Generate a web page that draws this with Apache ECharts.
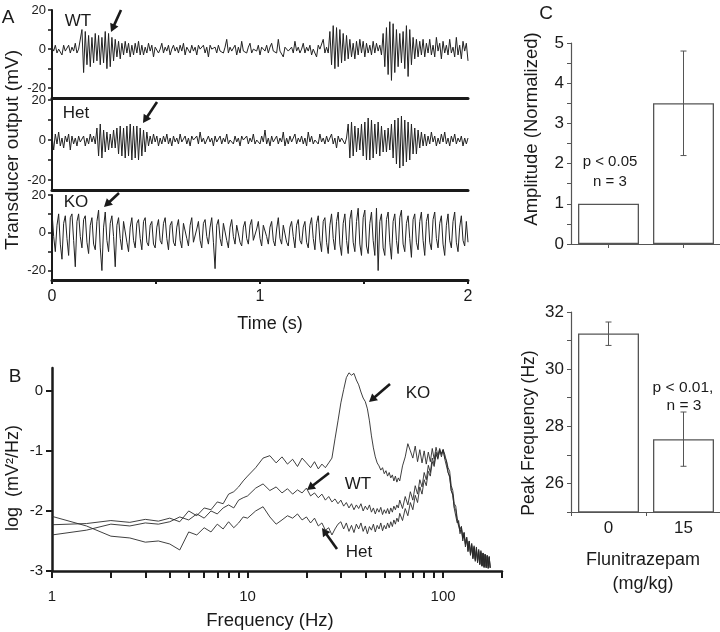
<!DOCTYPE html>
<html><head><meta charset="utf-8">
<script src="https://cdn.jsdelivr.net/npm/echarts@6/dist/echarts.min.js"></script>
<style>html,body{margin:0;padding:0;background:#fff}#c{width:720px;height:632px}</style>
</head><body><div id="c"></div><script>
// ---------- Panel A: transducer traces (mV), one sample every DT seconds ----------
const DT = 0.008;
const WT_MV = [
 1,-1,2,-2,0,1,-3,2,-1,0,2,-2,1,-1,3,-2,0,1,10,-12,9,-8,7,-9,6,
 -7,8,-6,7,-8,6,-7,9,-10,8,-9,6,-6,5,-4,4,-5,3,-3,4,-2,3,-4,2,-3,
 3,-2,4,-3,2,-3,1,-2,3,-1,2,-4,1,2,-2,0,3,-2,1,-1,2,-3,0,2,-1,
 1,-2,2,-1,3,-3,1,0,-2,2,-1,1,-3,2,0,-1,2,-2,1,-4,2,0,-1,1,-2,
 2,-1,0,-2,1,5,-2,1,-1,0,2,-3,1,-2,4,-1,0,-2,1,3,-2,0,1,-1,2,
 -3,1,0,-1,2,-2,1,3,-1,0,-2,5,-1,0,-4,1,2,-1,0,1,-2,4,-1,1,-2,
 0,3,-2,1,-1,2,-3,0,1,-4,2,0,-1,5,-2,1,-2,9,-8,12,-10,11,-9,10,-7,
 8,-6,7,-5,5,-4,3,-5,4,-3,5,-2,4,-4,3,-2,2,-3,4,-2,3,-1,2,-3,8,
 -9,11,-13,14,-16,13,-12,10,-9,8,-7,9,-10,12,-14,10,-8,6,-5,5,-4,4,-3,5,-4,
 3,-2,5,-3,2,-4,6,-1,3,-5,4,-2,2,-3,5,-2,1,-4,6,-3,2,-5,4,-1,3,-6
];
const HET_MV = [
 2,-5,3,-2,4,-3,1,-4,2,-1,3,-5,2,-2,1,-3,2,-1,0,2,-3,1,-2,3,-1,
 2,-2,6,-8,8,-9,5,-6,4,-5,3,-4,5,-4,6,-7,7,-8,6,-9,7,-8,8,-10,7,
 -9,7,-10,6,-8,5,-6,4,-3,2,-2,3,-1,2,-3,1,-2,2,-1,3,-2,1,-3,2,-1,
 1,-2,3,-1,0,2,-2,1,-3,2,0,-1,2,-2,4,-1,1,-2,0,2,-1,1,-3,2,-1,
 0,2,-2,1,-1,3,-2,0,1,-2,2,-1,1,-3,2,0,-1,2,-2,1,-1,3,-2,0,1,
 -2,2,-1,5,-2,1,-3,2,-1,0,2,-2,1,-1,4,-3,1,-2,2,-1,0,3,-2,1,-1,
 2,-2,1,-3,4,-1,2,-2,0,1,-2,3,-1,1,-2,2,-1,0,3,-2,1,-4,2,-1,1,
 0,-2,1,8,-9,9,-8,7,-6,6,-5,8,-8,9,-10,11,-10,10,-9,8,-7,9,-8,7,-6,
 5,-6,6,-5,8,-9,10,-12,11,-14,12,-13,10,-11,9,-10,8,-7,6,-7,5,-4,4,-3,3,
 -3,2,-2,4,-1,2,-3,1,-2,3,-1,4,-2,1,-3,2,-1,3,-2,1,-1,2,-3,1,-2,1
];
const KO_MV = [
 11,-2,-10,4,10,-6,-14,5,9,-3,-12,8,10,-4,-18,6,10,-2,-8,7,9,-5,-11,4,8,
 -6,-9,6,12,-8,-20,3,11,-4,-10,5,9,-2,-18,4,8,-3,-9,6,7,-5,-10,3,8,-4,
 -8,5,7,-3,-9,6,8,-5,-7,4,6,-6,-8,3,7,-4,-6,5,8,-3,-9,4,6,-5,-7,
 3,7,-4,-8,5,6,-3,-7,4,8,-5,-6,2,6,-4,-8,5,7,-2,-6,3,8,-5,-19,4,
 7,-3,-7,5,6,-4,-8,3,7,-2,-6,4,5,-5,-7,3,6,-3,-6,4,7,-4,-5,2,6,
 -3,-7,4,5,-2,-6,3,6,-4,-7,2,8,-3,-6,4,5,-5,-7,3,6,-2,-8,4,7,-4,
 -6,3,6,-5,-8,4,8,-3,-9,5,9,-4,-10,6,8,-5,-11,4,10,-3,-9,6,11,-6,-12,
 5,10,-4,-11,7,12,-5,-10,6,13,-6,-12,8,12,-7,-11,5,11,-4,-12,13,-20,6,10,-8,
 -12,7,11,-5,-14,6,10,-4,-11,8,12,-6,-10,5,9,-3,-13,7,10,-5,-9,6,11,-4,-12,
 6,10,-5,-9,7,11,-3,-8,5,9,-6,-12,4,10,-4,-8,6,11,-5,-10,3,9,-4,-7,6,-5
];
const TRACE_LABELS = ['WT', 'Het', 'KO'];

// ---------- Panel B: power spectra, log(mV^2/Hz) vs frequency (Hz) ----------
const FREQ = [
 1,1.5,2,2.5,3,3.5,4,4.5,5,5.5,6,6.5,7,7.5,8,8.5,9,9.5,
 10,11,12,13,14,15,16,17,18,19,20,21,22,23,24,25,26,27,28,29,
 30,31,32,33,34,35,36,37,38,39,40,41,42,43,44,45,46,47,48,49,
 50,51,52,53,54,55,56,57,58,59,
 60,62,64,66,68,70,72,74,76,78,80,82,84,86,88,90,92,94,96,98,
 100,102,104,106,108,110,112,114,116,118,120,122,124,126,128,130,132,134,136,138,
 140,142,144,146,148,150,152,154,156,158,160,162,164,166,168,170,172,174
];
const KO_LOG = [
 -2.23,-2.21,-2.16,-2.19,-2.14,-2.17,-2.12,-2.18,-2.0,-2.08,-1.95,-1.98,-1.85,-1.88,-1.72,-1.68,-1.6,-1.5,
 -1.42,-1.28,-1.12,-1.08,-1.2,-1.1,-1.22,-1.14,-1.26,-1.12,-1.2,-1.28,-1.18,-1.3,-1.22,-1.28,-1.2,-1.12,-0.8,-0.5,
 -0.2,0.02,0.22,0.3,0.26,0.29,0.18,0.1,-0.02,-0.12,-0.18,-0.3,-0.5,-0.75,-0.95,-1.1,-1.2,-1.25,-1.32,-1.28,
 -1.38,-1.33,-1.42,-1.36,-1.45,-1.4,-1.5,-1.42,-1.52,-1.45,
 -1.5,-1.25,-1.1,-0.88,-1.0,-1.12,-0.92,-1.18,-0.98,-1.2,-1.0,-1.22,-1.02,-1.18,-0.96,-1.14,-0.94,-1.08,-0.96,-1.06,
 -0.98,-1.12,-1.16,-1.36,-1.42,-1.66,-1.72,-1.96,-1.98,-2.2,-2.16,-2.38,-2.26,-2.5,-2.36,-2.6,-2.44,-2.68,-2.5,-2.74,
 -2.56,-2.8,-2.6,-2.84,-2.62,-2.86,-2.66,-2.9,-2.68,-2.92,-2.7,-2.94,-2.72,-2.95,-2.74,-2.96,-2.76,-2.95
];
const WT_LOG = [
 -2.4,-2.32,-2.22,-2.25,-2.2,-2.22,-2.18,-2.1,-2.15,-2.05,-2.12,-2.0,-2.05,-1.95,-1.9,-1.95,-1.82,-1.78,
 -1.75,-1.62,-1.55,-1.66,-1.6,-1.7,-1.63,-1.72,-1.65,-1.7,-1.62,-1.75,-1.7,-1.78,-1.72,-1.82,-1.76,-1.85,-1.8,-1.88,
 -1.82,-1.92,-1.86,-1.95,-1.88,-1.98,-1.9,-1.96,-1.88,-2.0,-1.92,-1.98,-1.9,-2.02,-1.95,-2.05,-1.96,-2.02,-1.94,-2.06,
 -1.98,-2.04,-1.96,-2.05,-1.95,-2.02,-1.92,-1.98,-1.9,-1.95,
 -1.82,-1.96,-1.76,-1.9,-1.68,-1.82,-1.58,-1.72,-1.48,-1.6,-1.36,-1.48,-1.24,-1.36,-1.12,-1.22,-1.02,-1.14,-0.98,-1.1,
 -0.98,-1.14,-1.16,-1.36,-1.44,-1.66,-1.74,-1.94,-1.98,-2.16,-2.16,-2.34,-2.3,-2.46,-2.4,-2.56,-2.48,-2.66,-2.52,-2.72,
 -2.58,-2.78,-2.62,-2.82,-2.64,-2.86,-2.68,-2.88,-2.7,-2.92,-2.72,-2.94,-2.74,-2.92,-2.76,-2.95,-2.78,-2.94
];
const HET_LOG = [
 -2.09,-2.25,-2.42,-2.45,-2.52,-2.5,-2.55,-2.65,-2.35,-2.4,-2.28,-2.35,-2.22,-2.3,-2.18,-2.28,-2.2,-2.1,
 -2.12,-2.0,-1.93,-2.1,-2.22,-2.15,-2.08,-2.12,-2.05,-2.15,-2.1,-2.2,-2.12,-2.25,-2.2,-2.32,-2.28,-2.4,-2.3,-2.22,
 -2.18,-2.3,-2.2,-2.34,-2.24,-2.36,-2.22,-2.3,-2.2,-2.34,-2.25,-2.38,-2.26,-2.32,-2.22,-2.35,-2.24,-2.3,-2.2,-2.33,
 -2.24,-2.3,-2.2,-2.28,-2.18,-2.26,-2.15,-2.22,-2.12,-2.18,
 -2.04,-2.16,-1.96,-2.08,-1.86,-1.98,-1.74,-1.86,-1.6,-1.72,-1.48,-1.58,-1.34,-1.42,-1.18,-1.26,-1.06,-1.12,-1.0,-1.04,
 -0.98,-1.06,-1.08,-1.28,-1.34,-1.58,-1.66,-1.88,-1.92,-2.12,-2.12,-2.3,-2.26,-2.44,-2.36,-2.54,-2.44,-2.62,-2.5,-2.7,
 -2.54,-2.76,-2.58,-2.8,-2.6,-2.84,-2.64,-2.88,-2.66,-2.9,-2.7,-2.92,-2.72,-2.94,-2.74,-2.92,-2.76,-2.95
];
const FREQ_TICKS = [1,2,3,4,5,6,7,8,9,10,20,30,40,50,60,70,80,90,100,200];
const FREQ_LABELS = [1,10,100];

// ---------- Panel C: Flunitrazepam effect ----------
const DOSES = ['0', '15'];
const AMP = [1, 3.5];
const AMP_LO = [1, 2.2];
const AMP_HI = [1, 4.8];
const PEAK = [31.25, 27.55];
const PEAK_LO = [30.83, 26.6];
const PEAK_HI = [31.65, 28.5];

// ---------- build ----------
const FONT = '"Liberation Sans", Arial, Helvetica, sans-serif';
const INK = '#1a1a1a';
const GRAY = '#555';

function traceData(arr) { return arr.map((v, i) => [Math.round(i * DT * 1000) / 1000, v]); }
function specData(arr) { return FREQ.map((f, i) => [f, arr[i]]); }
function errData(lo, hi) { return lo.map((l, i) => [i, l, hi[i]]); }

function errRender(params, api) {
  const x = api.value(0), lo = api.value(1), hi = api.value(2);
  if (lo === hi) return { type: 'group', children: [] };
  const p1 = api.coord([x, lo]), p2 = api.coord([x, hi]);
  const hw = 3, st = { stroke: GRAY, lineWidth: 1 };
  return { type: 'group', children: [
    { type: 'line', shape: { x1: p1[0], y1: p1[1], x2: p2[0], y2: p2[1] }, style: st },
    { type: 'line', shape: { x1: p1[0] - hw, y1: p1[1], x2: p1[0] + hw, y2: p1[1] }, style: st },
    { type: 'line', shape: { x1: p2[0] - hw, y1: p2[1], x2: p2[0] + hw, y2: p2[1] }, style: st }
  ]};
}

const gridBase = { containLabel: false, outerBoundsMode: 'none' };
const grids = [
  Object.assign({ left: 52, top: 10, width: 416, height: 88 }, gridBase),
  Object.assign({ left: 52, top: 100, width: 416, height: 90 }, gridBase),
  Object.assign({ left: 52, top: 195, width: 416, height: 85 }, gridBase),
  Object.assign({ left: 52, top: 368, width: 450, height: 203 }, gridBase),
  Object.assign({ left: 571, top: 43, width: 150, height: 201 }, gridBase),
  Object.assign({ left: 571, top: 312, width: 150, height: 200 }, gridBase)
];

const lblStyle = (size) => ({ color: INK, fontFamily: FONT, fontSize: size });

function traceX(gi, showTicks) {
  return {
    gridIndex: gi, type: 'value', min: 0, max: 2, interval: 0.5,
    axisLine: { show: true, onZero: false, lineStyle: { color: INK, width: 3 } },
    axisTick: { show: showTicks, length: 4, lineStyle: { color: INK, width: 2 } },
    axisLabel: Object.assign({ show: showTicks, margin: 9,
      formatter: v => (Math.abs(v - Math.round(v)) < 1e-9 ? String(Math.round(v)) : '') }, lblStyle(16)),
    splitLine: { show: false }
  };
}
function traceY(gi) {
  return {
    gridIndex: gi, type: 'value', min: -25, max: 20, interval: 5,
    axisLine: { show: true, onZero: false, lineStyle: { color: INK, width: 2 } },
    axisTick: { show: true, length: 4, lineStyle: { color: INK, width: 1.5 }, customValues: [-20, -10, 0, 10, 20] },
    axisLabel: Object.assign({ margin: 6, customValues: [-20, 0, 20],
      formatter: v => (v % 20 === 0 ? String(v) : '') }, lblStyle(13)),
    splitLine: { show: false }
  };
}

const xAxes = [
  traceX(0, false), traceX(1, false), traceX(2, true),
  {
    gridIndex: 3, type: 'log', logBase: 10, min: 1, max: 200,
    axisLine: { show: true, onZero: false, lineStyle: { color: INK, width: 2.5 } },
    axisTick: { show: true, length: 7, lineStyle: { color: INK, width: 2 }, customValues: FREQ_TICKS },
    axisLabel: Object.assign({ margin: 18, customValues: FREQ_LABELS }, lblStyle(15)),
    splitLine: { show: false }, minorTick: { show: false }
  },
  {
    gridIndex: 4, type: 'category', data: DOSES,
    axisLine: { onZero: false, lineStyle: { color: GRAY, width: 1.2 } },
    axisTick: { show: true, alignWithLabel: true, length: 4, lineStyle: { color: GRAY } },
    axisLabel: { show: false }
  },
  {
    gridIndex: 5, type: 'category', data: DOSES,
    axisLine: { onZero: false, lineStyle: { color: GRAY, width: 1.2 } },
    axisTick: { show: true, alignWithLabel: false, length: 4, lineStyle: { color: GRAY } },
    axisLabel: Object.assign({ margin: 8 }, lblStyle(17))
  }
];
const yAxes = [
  traceY(0), traceY(1), traceY(2),
  {
    gridIndex: 3, type: 'value', min: -3, max: 0.38, interval: 1,
    axisLine: { show: true, onZero: false, lineStyle: { color: INK, width: 2.5 } },
    axisTick: { show: true, length: 6, lineStyle: { color: INK, width: 2 }, customValues: [-3, -2, -1, 0] },
    axisLabel: Object.assign({ margin: 9, customValues: [-3, -2, -1, 0],
      formatter: v => (Number.isInteger(v) ? String(v) : '') }, lblStyle(15)),
    splitLine: { show: false }
  },
  {
    gridIndex: 4, type: 'value', min: 0, max: 5, interval: 0.5,
    axisLine: { show: true, onZero: false, lineStyle: { color: GRAY, width: 1.2 } },
    axisTick: { show: true, length: 4, lineStyle: { color: GRAY } },
    axisLabel: Object.assign({ margin: 7, formatter: v => (Number.isInteger(v) ? String(v) : '') }, lblStyle(17)),
    splitLine: { show: false }
  },
  {
    gridIndex: 5, type: 'value', min: 25, max: 32, interval: 1,
    axisLine: { show: true, onZero: false, lineStyle: { color: GRAY, width: 1.2 } },
    axisTick: { show: true, length: 4, lineStyle: { color: GRAY } },
    axisLabel: Object.assign({ margin: 7, formatter: v => (v % 2 === 0 ? String(v) : '') }, lblStyle(17)),
    splitLine: { show: false }
  }
];

const lineBase = (xi, yi, data, w, c) => ({
  type: 'line', xAxisIndex: xi, yAxisIndex: yi, data: data, showSymbol: false, symbol: 'none',
  lineStyle: { width: w, color: c }, silent: true, clip: true, animation: false
});

const series = [
  lineBase(0, 0, traceData(WT_MV), 1, '#222'),
  lineBase(1, 1, traceData(HET_MV), 1, '#222'),
  lineBase(2, 2, traceData(KO_MV), 1, '#222'),
  lineBase(3, 3, specData(KO_LOG), 0.9, '#2a2a2a'),
  lineBase(3, 3, specData(WT_LOG), 0.9, '#2a2a2a'),
  lineBase(3, 3, specData(HET_LOG), 0.9, '#2a2a2a'),
  { type: 'bar', xAxisIndex: 4, yAxisIndex: 4, data: AMP, barWidth: 61,
    itemStyle: { color: '#fff', borderColor: GRAY, borderWidth: 1.3 }, silent: true },
  { type: 'custom', xAxisIndex: 4, yAxisIndex: 4, data: errData(AMP_LO, AMP_HI),
    encode: { x: 0, y: [1, 2] }, renderItem: errRender, z: 5, silent: true },
  { type: 'bar', xAxisIndex: 5, yAxisIndex: 5, data: PEAK, barWidth: 61,
    itemStyle: { color: '#fff', borderColor: GRAY, borderWidth: 1.3 }, silent: true },
  { type: 'custom', xAxisIndex: 5, yAxisIndex: 5, data: errData(PEAK_LO, PEAK_HI),
    encode: { x: 0, y: [1, 2] }, renderItem: errRender, z: 5, silent: true }
];

// ---------- annotations ----------
function txt(x, y, s, size, rot) {
  return { type: 'text', x: x, y: y, rotation: rot || 0, silent: true,
    style: { text: s, fill: INK, fontSize: size, fontFamily: FONT,
      align: 'center', verticalAlign: 'middle', textAlign: 'center', textVerticalAlign: 'middle' } };
}
function arrow(x1, y1, x2, y2) {
  const dx = x2 - x1, dy = y2 - y1, L = Math.hypot(dx, dy), ux = dx / L, uy = dy / L;
  const hl = 8, hw = 4.5, bx = x2 - ux * hl, by = y2 - uy * hl;
  return [
    { type: 'line', silent: true, shape: { x1: x1, y1: y1, x2: bx + ux, y2: by + uy }, style: { stroke: INK, lineWidth: 2.6 } },
    { type: 'polygon', silent: true, shape: { points: [[x2, y2], [bx - uy * hw, by + ux * hw], [bx + uy * hw, by - ux * hw]] }, style: { fill: INK } }
  ];
}
const V = Math.PI / 2;
const graphics = [].concat(
  [txt(8, 18, 'A', 19), txt(15, 377, 'B', 19), txt(546, 14, 'C', 19)],
  [txt(78, 21, TRACE_LABELS[0], 17), txt(76, 113, TRACE_LABELS[1], 17), txt(76, 202, TRACE_LABELS[2], 17)],
  arrow(121, 10, 111, 32), arrow(157, 102, 143, 123), arrow(119, 193, 104, 207),
  [txt(418, 393, 'KO', 17), txt(358, 484, 'WT', 17), txt(359, 552, 'Het', 17)],
  arrow(390, 384, 369, 402), arrow(329, 473, 307, 490), arrow(337, 549, 322, 528),
  [txt(13, 150, 'Transducer output (mV)', 19, V), txt(270, 324, 'Time (s)', 18)],
  [txt(13, 478, 'log  (mV\u00B2/Hz)', 18, V), txt(270, 621, 'Frequency (Hz)', 18.5)],
  [txt(532, 129, 'Amplitude (Normalized)', 18.5, V), txt(610, 162, 'p < 0.05', 15), txt(610, 182, 'n = 3', 15)],
  [txt(529, 433, 'Peak Frequency (Hz)', 17.5, V), txt(683, 388, 'p < 0.01,', 15.5), txt(684, 406, 'n = 3', 15.5)],
  [txt(643, 560, 'Flunitrazepam', 18), txt(643, 584, '(mg/kg)', 18)]
);

const chart = echarts.init(document.getElementById('c'), null, { renderer: 'canvas', width: 720, height: 632 });
chart.setOption({
  backgroundColor: '#fff',
  animation: false,
  textStyle: { fontFamily: FONT, color: INK },
  grid: grids, xAxis: xAxes, yAxis: yAxes, series: series,
  graphic: { elements: graphics }
});
</script></body></html>
